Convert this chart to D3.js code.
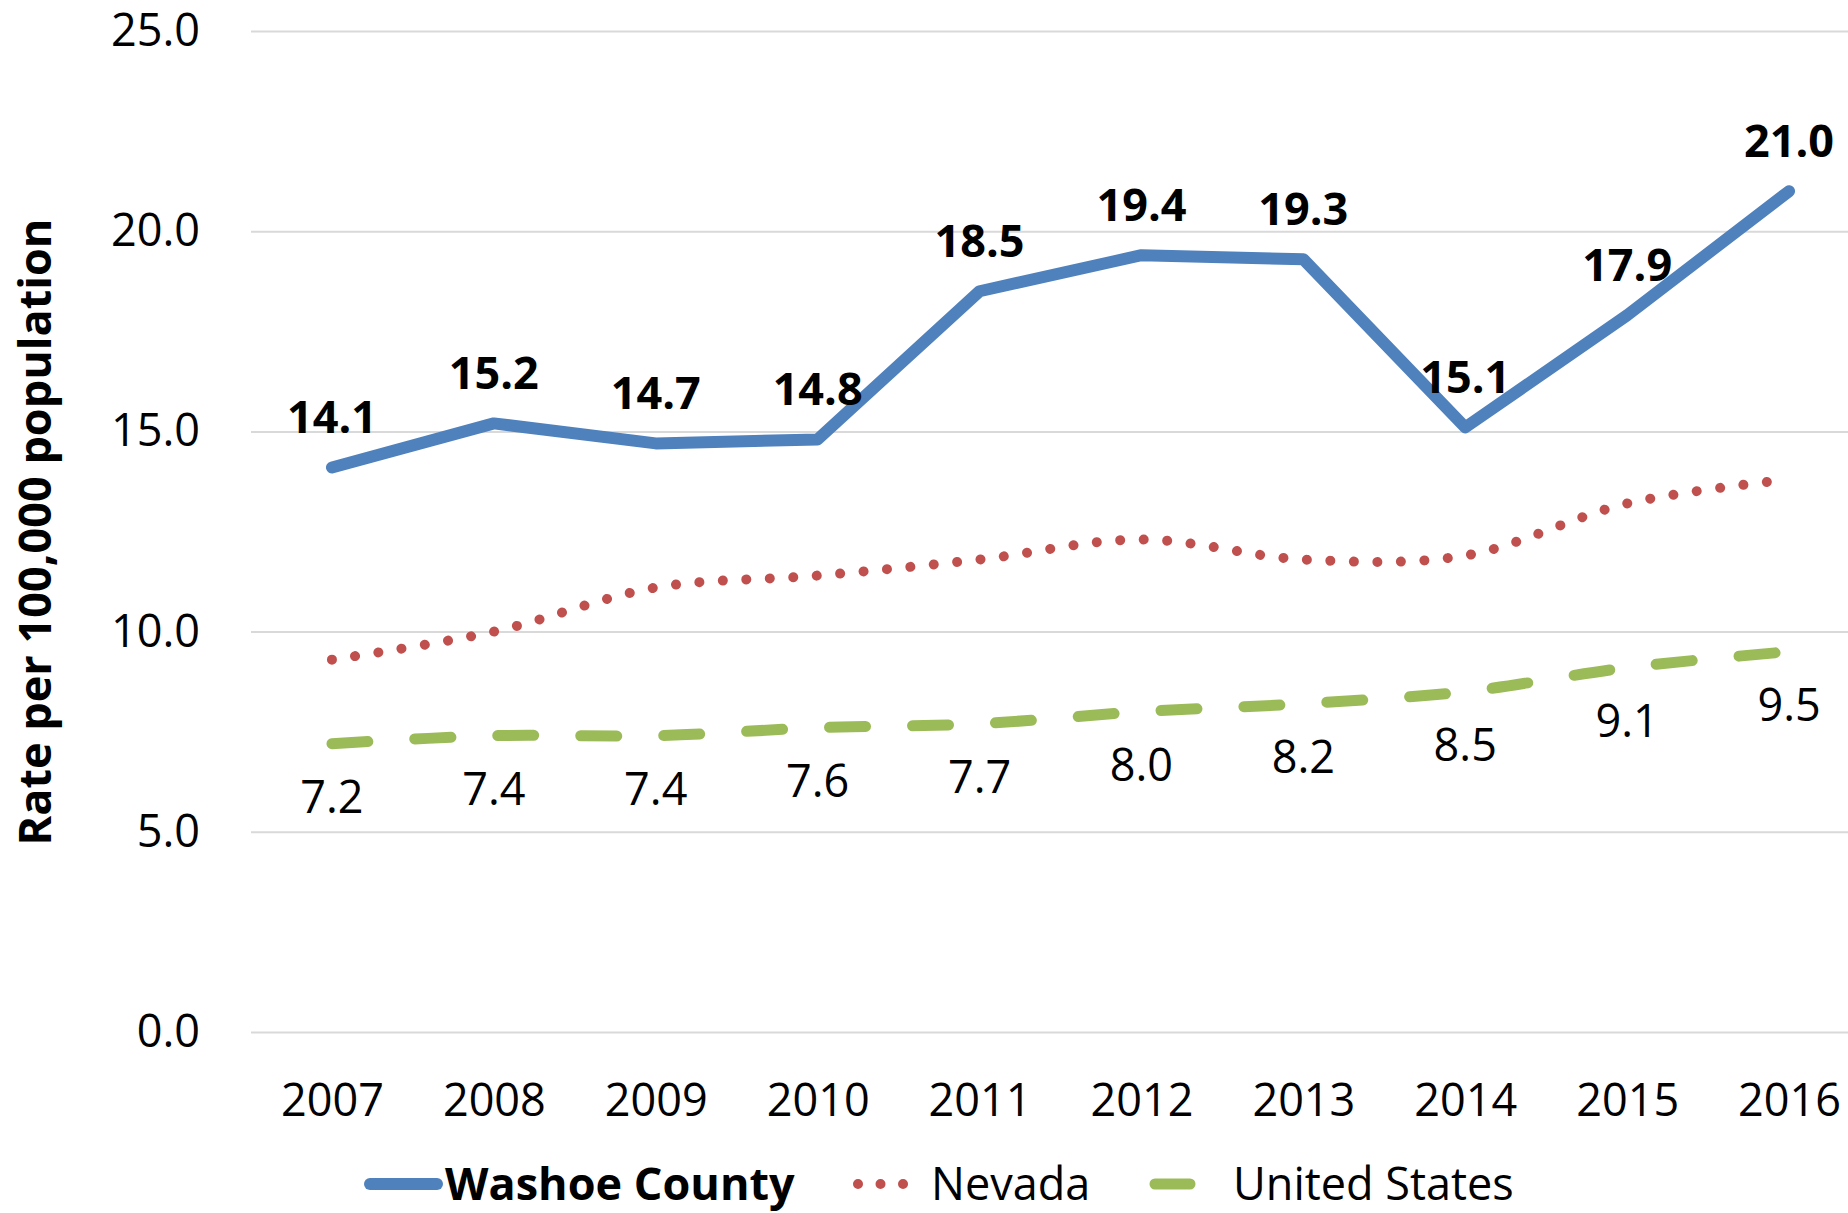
<!DOCTYPE html>
<html>
    <head>
        <meta charset="utf-8" />
        <title> Rate per 100,000 population </title>
        <style>
          body { margin: 0; background: #fff; }
          text { font-family: "Open Sans", "Noto Sans", sans-serif; fill: #000; }
        </style>
        <script src="https://d3js.org/d3.v7.min.js"></script>
    </head>

    <body>
      <script>

        // chart data
        var years = ["2007", "2008", "2009", "2010", "2011", "2012", "2013", "2014", "2015", "2016"];
        var washoe = [14.1, 15.2, 14.7, 14.8, 18.5, 19.4, 19.3, 15.1, 17.9, 21.0];
        var nevada = [9.3, 10.0, 11.1, 11.4, 11.8, 12.3, 11.8, 11.9, 13.2, 13.8];
        var unitedStates = [7.2, 7.4, 7.4, 7.6, 7.7, 8.0, 8.2, 8.5, 9.1, 9.5];
        var yTicks = [0, 5, 10, 15, 20, 25];
        var seriesNames = ["Washoe County", "Nevada", "United States"];

        var width = 1848, height = 1213;

        var canvas = d3.select("body").append("svg")
            .attr("width", width)
            .attr("height", height);

        var x = d3.scalePoint().domain(years).range([251, 1870]).padding(0.5);
        var y = d3.scaleLinear().domain([0, 25]).range([1032, 31]);

        // y axis with gridlines
        var yAxis = canvas.append("g")
            .attr("transform", "translate(251,0)")
            .call(d3.axisLeft(y).tickValues(yTicks).tickFormat(d3.format(".1f"))
                .tickSize(-(width - 251)).tickPadding(51));
        yAxis.select(".domain").remove();
        yAxis.selectAll("line").attr("stroke", "#d9d9d9").attr("stroke-width", 2);
        yAxis.selectAll("text").attr("font-size", 45).attr("fill", "#000")
            .style("font-family", "'Open Sans', sans-serif");

        // x axis labels
        var xAxis = canvas.append("g")
            .attr("transform", "translate(0,1032)")
            .call(d3.axisBottom(x).tickSize(0).tickPadding(52));
        xAxis.select(".domain").remove();
        xAxis.selectAll("text").attr("font-size", 45).attr("fill", "#000")
            .style("font-family", "'Open Sans', sans-serif");

        // y axis title
        canvas.append("text")
            .attr("transform", "translate(35,532) rotate(-90)")
            .attr("text-anchor", "middle")
            .attr("dy", "0.35em")
            .attr("font-size", 45)
            .attr("font-weight", "bold")
            .text("Rate per 100,000 population");

        function pts(vals) {
            return vals.map(function(v, i){ return [x(years[i]), y(v)]; });
        }

        // United States - dashed
        canvas.append("path")
            .attr("d", d3.line().curve(d3.curveCatmullRom)(pts(unitedStates)))
            .attr("fill", "none")
            .attr("stroke", "#9bbb59")
            .attr("stroke-width", 11)
            .attr("stroke-linecap", "round")
            .attr("stroke-dasharray", "36,47");

        // Nevada - round dots
        canvas.append("path")
            .attr("d", d3.line().curve(d3.curveCatmullRom)(pts(nevada)))
            .attr("fill", "none")
            .attr("stroke", "#c0504d")
            .attr("stroke-width", 10)
            .attr("stroke-linecap", "round")
            .attr("stroke-dasharray", "0.01,23.5");

        // Washoe County - solid
        canvas.append("path")
            .attr("d", d3.line()(pts(washoe)))
            .attr("fill", "none")
            .attr("stroke", "#4f81bd")
            .attr("stroke-width", 12)
            .attr("stroke-linecap", "round")
            .attr("stroke-linejoin", "round");

        // data labels
        canvas.selectAll(".lblW")
            .data(washoe)
            .enter()
            .append("text")
            .attr("class", "lblW")
            .attr("x", function(d, i){ return x(years[i]); })
            .attr("y", function(d){ return y(d) - 50; })
            .attr("dy", "0.35em")
            .attr("text-anchor", "middle")
            .attr("font-size", 45)
            .attr("font-weight", "bold")
            .text(function(d){ return d.toFixed(1); });

        canvas.selectAll(".lblUS")
            .data(unitedStates)
            .enter()
            .append("text")
            .attr("class", "lblUS")
            .attr("x", function(d, i){ return x(years[i]); })
            .attr("y", function(d){ return y(d) + 54; })
            .attr("dy", "0.35em")
            .attr("text-anchor", "middle")
            .attr("font-size", 45)
            .text(function(d){ return d.toFixed(1); });

        // legend
        var legendY = 1184;
        canvas.append("line")
            .attr("x1", 370).attr("x2", 437)
            .attr("y1", legendY).attr("y2", legendY)
            .attr("stroke", "#4f81bd").attr("stroke-width", 12)
            .attr("stroke-linecap", "round");
        canvas.append("line")
            .attr("x1", 858).attr("x2", 904)
            .attr("y1", legendY).attr("y2", legendY)
            .attr("stroke", "#c0504d").attr("stroke-width", 10)
            .attr("stroke-linecap", "round")
            .attr("stroke-dasharray", "0.01,22.5");
        canvas.append("line")
            .attr("x1", 1155).attr("x2", 1190)
            .attr("y1", legendY).attr("y2", legendY)
            .attr("stroke", "#9bbb59").attr("stroke-width", 11)
            .attr("stroke-linecap", "round");

        var legendX = [445, 931, 1233];
        canvas.selectAll(".leg")
            .data(seriesNames)
            .enter()
            .append("text")
            .attr("class", "leg")
            .attr("x", function(d, i){ return legendX[i]; })
            .attr("y", legendY)
            .attr("dy", "0.35em")
            .attr("font-size", 45)
            .attr("font-weight", function(d, i){ return i == 0 ? "bold" : "normal"; })
            .text(function(d){ return d; });

      </script>
    </body>
</html>
